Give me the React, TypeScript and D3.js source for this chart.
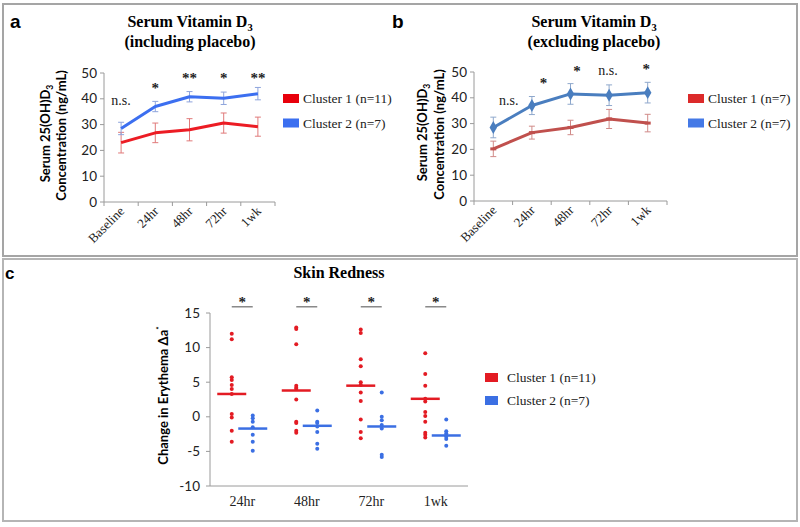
import React from "react";
import * as d3 from "d3";

// ---------- DATA ----------
const timepoints = ["Baseline", "24hr", "48hr", "72hr", "1wk"];
const yTicksAB = [0, 10, 20, 30, 40, 50];

// Panel a (including placebo)
const aCluster1 = [23, 26.8, 28, 30.6, 29.2];
const aCluster1Err = [4, 3.8, 4.3, 3.9, 3.7];
const aCluster2 = [28.5, 37, 40.8, 40.2, 42];
const aCluster2Err = [2.4, 2, 2, 2.4, 2.4];
const aSigLabels = ["n.s.", "*", "**", "*", "**"];
const aSigX = [0, 1, 2, 3, 4];
const aSigY = [37.5, 45.3, 49.2, 49.2, 49.2];
const aLegend = ["Cluster 1 (n=11)", "Cluster 2 (n=7)"];

// Panel b (excluding placebo)
const bCluster1 = [20.2, 26.5, 28.5, 31.8, 30.2];
const bCluster1Err = [3, 2.5, 2.8, 3.7, 3.4];
const bCluster2 = [28.5, 37, 41.5, 41, 42];
const bCluster2Err = [4, 3.5, 4, 4, 4];
const bSigLabels = ["n.s.", "*", "*", "n.s.", "*"];
const bSigX = [0.4, 1.3, 2.17, 2.97, 3.96];
const bSigY = [37.2, 46.9, 51.6, 48.8, 52.3];
const bLegend = ["Cluster 1 (n=7)", "Cluster 2 (n=7)"];

// Panel c (skin redness)
const cCategories = ["24hr", "48hr", "72hr", "1wk"];
const cTicks = [-10, -5, 0, 5, 10, 15];
const cCluster1 = [
  [12.0, 11.2, 5.7, 5.3, 4.6, 4.0, 3.3, 0.4, -0.1, -2.0, -3.6],
  [12.9, 12.7, 10.5, 4.5, 4.2, 4.0, 2.5, -0.7, -0.9, -2.0, -2.3],
  [12.6, 12.1, 8.3, 7.3, 5.0, 4.6, 3.5, 2.3, -0.4, -2.2, -3.1],
  [9.2, 6.2, 4.5, 2.6, 2.2, 0.7, 0.1, -0.7, -2.3, -2.6, -3.0],
];
const cCluster2 = [
  [0.2, -0.2, -0.7, -1.5, -2.6, -3.6, -4.9],
  [0.9, -0.7, -0.9, -1.4, -2.2, -3.9, -4.6],
  [3.5, 0.0, -0.5, -1.2, -1.7, -5.5, -5.8],
  [-0.4, -2.1, -2.4, -2.7, -2.9, -3.2, -4.2],
];
const cMean1 = [3.3, 3.8, 4.5, 2.6];
const cMean2 = [-1.7, -1.3, -1.4, -2.7];
const cSig = ["*", "*", "*", "*"];
const cSigBarY = 15.9;
const cLegend = ["Cluster 1 (n=11)", "Cluster 2 (n=7)"];

// ---------- STYLE ----------
const SERIF = "'Liberation Serif', 'Times New Roman', serif";
const SANS = "Lato, 'Open Sans', sans-serif";
const BOLD_SANS = "'Liberation Sans', Arial, sans-serif";
const AXIS = "#9a9a9a";

type LinePanelProps = {
  x0: number; x1: number; yTop: number; yBot: number;
  titleX: number; sub: string;
  c1: number[]; c1e: number[]; c2: number[]; c2e: number[];
  col1: string; col2: string; err1: string; err2: string;
  leg1: string; leg2: string; legX: number; legend: string[];
  sigL: string[]; sigX: number[]; sigY: number[];
  ylab1X: number; ylab2X: number; markers: boolean;
};

function LinePanel(p: LinePanelProps) {
  const x = d3.scaleBand<string>().domain(timepoints).range([p.x0, p.x1]);
  const y = d3.scaleLinear().domain([0, 50]).range([p.yBot, p.yTop]);
  const cx = (i: number) => (x(timepoints[i]) as number) + x.bandwidth() / 2;
  const cxf = (f: number) => p.x0 + x.bandwidth() * (f + 0.5);
  const line = d3.line<number>().x((_, i) => cx(i)).y((v) => y(v));
  const series = [
    { v: p.c1, e: p.c1e, col: p.col1, ec: p.err1 },
    { v: p.c2, e: p.c2e, col: p.col2, ec: p.err2 },
  ];
  const ylabCenter = (p.yTop + p.yBot) / 2 - 4;
  const diamond = d3.symbol().type(d3.symbolDiamond).size(48)();
  return (
    <g>
      <text x={p.titleX} y={27} textAnchor="middle" fontFamily={SERIF} fontWeight="bold" fontSize={16}>
        Serum Vitamin D<tspan fontSize={10.5} dy={4}>3</tspan>
      </text>
      <text x={p.titleX} y={47} textAnchor="middle" fontFamily={SERIF} fontWeight="bold" fontSize={16}>
        {p.sub}
      </text>
      <text transform={`translate(${p.ylab1X},${ylabCenter}) rotate(-90)`} textAnchor="middle" fontFamily={SANS} fontWeight="bold" fontSize={13}>
        Serum 25(OH)D<tspan fontSize={8.5} dy={3}>3</tspan>
      </text>
      <text transform={`translate(${p.ylab2X},${ylabCenter + 2}) rotate(-90)`} textAnchor="middle" fontFamily={SANS} fontWeight="bold" fontSize={13}>
        Concentration  (ng/mL)
      </text>
      <line x1={p.x0} x2={p.x0} y1={p.yTop} y2={p.yBot} stroke={AXIS} />
      <line x1={p.x0} x2={p.x1} y1={p.yBot} y2={p.yBot} stroke={AXIS} />
      {yTicksAB.map((t) => (
        <g key={t}>
          <line x1={p.x0 - 4} x2={p.x0} y1={y(t)} y2={y(t)} stroke={AXIS} />
          <text x={p.x0 - 7} y={y(t) + 4.5} textAnchor="end" fontFamily={SANS} fontSize={13.5} fill="#222">{t}</text>
        </g>
      ))}
      {timepoints.map((t) => (
        <line key={"tk" + t} x1={x(t) as number} x2={x(t) as number} y1={p.yBot} y2={p.yBot + 4} stroke={AXIS} />
      ))}
      <line x1={p.x1} x2={p.x1} y1={p.yBot} y2={p.yBot + 4} stroke={AXIS} />
      {timepoints.map((t, i) => (
        <text key={"xl" + t} transform={`translate(${cx(i) + 4},${p.yBot + 10}) rotate(-45)`} textAnchor="end" fontFamily={SERIF} fontSize={13} fill="#222">{t}</text>
      ))}
      {series.map((s, si) => (
        <g key={"eb" + si}>
          {s.v.map((v, i) => (
            <g key={i} stroke={s.ec} strokeWidth={1}>
              <line x1={cx(i)} x2={cx(i)} y1={y(v - s.e[i])} y2={y(v + s.e[i])} />
              <line x1={cx(i) - 3} x2={cx(i) + 3} y1={y(v - s.e[i])} y2={y(v - s.e[i])} />
              <line x1={cx(i) - 3} x2={cx(i) + 3} y1={y(v + s.e[i])} y2={y(v + s.e[i])} />
            </g>
          ))}
        </g>
      ))}
      {series.map((s, si) => (
        <path key={"ln" + si} d={line(s.v) as string} fill="none" stroke={s.col} strokeWidth={3} strokeLinejoin="round" />
      ))}
      {p.markers && p.c2.map((v, i) => (
        <path key={"dm" + i} d={diamond as string} transform={`translate(${cx(i)},${y(v)})`} fill={p.col2} />
      ))}
      {p.markers && p.c1.map((v, i) => (
        <rect key={"rm" + i} x={cx(i) - 3} y={y(v) - 1.5} width={6} height={3} fill={p.col1} />
      ))}
      {p.sigL.map((l, i) => (
        <text key={"sg" + i} x={cxf(p.sigX[i])} y={l === "n.s." ? y(p.sigY[i]) : y(p.sigY[i]) + 8}
          textAnchor="middle" fontFamily={SERIF} fontWeight={l === "n.s." ? "normal" : "bold"} fontSize={l === "n.s." ? 14 : 15} fill="#222">{l}</text>
      ))}
      {p.legend.map((l, i) => (
        <g key={"lg" + l}>
          <rect x={p.legX} y={94 + i * 24.5} width={16} height={9} fill={i === 0 ? p.leg1 : p.leg2} />
          <text x={p.legX + 20} y={103 + i * 24.5} fontFamily={SERIF} fontSize={13.5} fill="#222">{l}</text>
        </g>
      ))}
    </g>
  );
}

function SkinPanel() {
  const x0 = 210, x1 = 468, yTop = 313, yBot = 486;
  const x = d3.scaleBand<string>().domain(cCategories).range([x0, x1]);
  const y = d3.scaleLinear().domain([-10, 15]).range([yBot, yTop]);
  const cx = (i: number) => (x(cCategories[i]) as number) + x.bandwidth() / 2;
  const off = 10.5;
  const red = "#e31b23";
  const blue = "#3b6fe3";
  return (
    <g>
      <text x={339} y={278} textAnchor="middle" fontFamily={SERIF} fontWeight="bold" fontSize={16}>Skin Redness</text>
      <text transform={`translate(168,${(yTop + yBot) / 2 - 4}) rotate(-90)`} textAnchor="middle" fontFamily={SANS} fontWeight="bold" fontSize={13}>
        Change in Erythema Δa<tspan fontSize={8} dy={-6}>*</tspan>
      </text>
      <line x1={x0} x2={x0} y1={yTop} y2={yBot} stroke={AXIS} />
      <line x1={x0} x2={x1} y1={yBot} y2={yBot} stroke={AXIS} />
      {cTicks.map((t) => (
        <g key={t}>
          <line x1={x0 - 4} x2={x0} y1={y(t)} y2={y(t)} stroke={AXIS} />
          <text x={x0 - 10} y={y(t) + 4.5} textAnchor="end" fontFamily={SANS} fontSize={13.5} fill="#222">{t}</text>
        </g>
      ))}
      {cCategories.map((c, i) => (
        <text key={"xl" + c} x={cx(i)} y={506} textAnchor="middle" fontFamily={SERIF} fontSize={14} fill="#222">{c}</text>
      ))}
      {cCategories.map((c, i) => (
        <g key={"g" + c}>
          {cCluster1[i].map((v, j) => (
            <circle key={"r" + j} cx={cx(i) - off} cy={y(v)} r={2} fill={red} />
          ))}
          {cCluster2[i].map((v, j) => (
            <circle key={"b" + j} cx={cx(i) + off} cy={y(v)} r={2} fill={blue} />
          ))}
          <line x1={cx(i) - off - 14.5} x2={cx(i) - off + 14.5} y1={y(cMean1[i])} y2={y(cMean1[i])} stroke={red} strokeWidth={2.5} />
          <line x1={cx(i) + off - 14.5} x2={cx(i) + off + 14.5} y1={y(cMean2[i])} y2={y(cMean2[i])} stroke={blue} strokeWidth={2.5} />
          <line x1={cx(i) - off} x2={cx(i) + off} y1={y(cSigBarY)} y2={y(cSigBarY)} stroke="#8a8a8a" strokeWidth={1.5} />
          <text x={cx(i)} y={y(cSigBarY)} textAnchor="middle" fontFamily={SERIF} fontWeight="bold" fontSize={15} fill="#222">{cSig[i]}</text>
        </g>
      ))}
      {cLegend.map((l, i) => (
        <g key={"lg" + l}>
          <rect x={485} y={373 + i * 23} width={13} height={9} fill={i === 0 ? red : blue} />
          <text x={507} y={382 + i * 23} fontFamily={SERIF} fontSize={13.5} fill="#222">{l}</text>
        </g>
      ))}
    </g>
  );
}

export default function App() {
  return (
    <div style={{ position: "absolute", left: 0, top: 0 }}>
      <svg width={800} height={527} style={{ display: "block", background: "#fff" }}>
        <rect x={0} y={0} width={800} height={527} fill="#fff" />
        <rect x={3} y={4} width={794} height={252} fill="none" stroke="#a5a5a5" strokeWidth={2} />
        <rect x={3} y={259} width={794} height={262} fill="none" stroke="#b5b5b5" strokeWidth={2} />
        <text x={10} y={28} fontFamily={BOLD_SANS} fontWeight="bold" fontSize={19}>a</text>
        <text x={392} y={28} fontFamily={BOLD_SANS} fontWeight="bold" fontSize={19}>b</text>
        <text x={5} y={279} fontFamily={BOLD_SANS} fontWeight="bold" fontSize={17}>c</text>
        <LinePanel x0={104} x1={275} yTop={73} yBot={202} titleX={190} sub="(including placebo)"
          c1={aCluster1} c1e={aCluster1Err} c2={aCluster2} c2e={aCluster2Err}
          col1="#ec1c24" col2="#3c6ff0" err1="#e07a7a" err2="#8ea4dc"
          leg1="#e8000b" leg2="#3b6ff0" legX={283} legend={aLegend}
          sigL={aSigLabels} sigX={aSigX} sigY={aSigY} ylab1X={50} ylab2X={66} markers={false} />
        <LinePanel x0={474} x1={667} yTop={72} yBot={201} titleX={594} sub="(excluding placebo)"
          c1={bCluster1} c1e={bCluster1Err} c2={bCluster2} c2e={bCluster2Err}
          col1="#c0504d" col2="#4a7ebf" err1="#d08a88" err2="#8fa8cc"
          leg1="#dc2a2a" leg2="#4479e6" legX={688} legend={bLegend}
          sigL={bSigLabels} sigX={bSigX} sigY={bSigY} ylab1X={427} ylab2X={444} markers={true} />
        <SkinPanel />
      </svg>
    </div>
  );
}
